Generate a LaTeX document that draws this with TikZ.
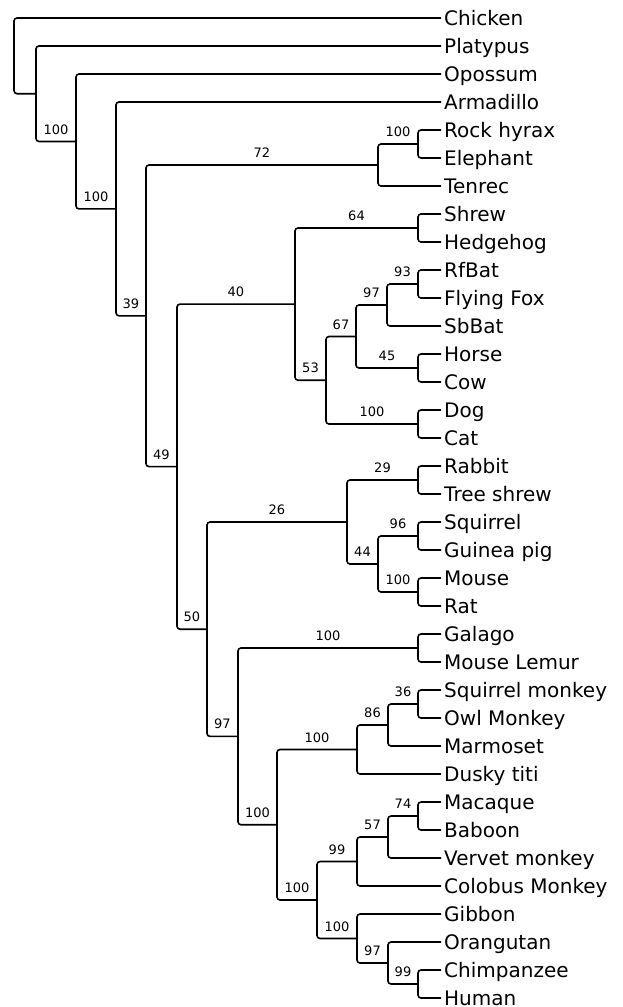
\documentclass[tikz,border=0pt]{standalone}
\usepackage{fontspec}
\setmainfont{DejaVu Sans}
\begin{document}
\begin{tikzpicture}[x=1pt,y=-1pt,
  branch/.style={line width=1.6pt, rounded corners=3pt},
  taxon/.style={font=\fontsize{20}{24}\selectfont, anchor=base west, inner sep=0pt},
  sup/.style={font=\fontsize{13}{15}\selectfont, anchor=base, inner sep=0pt, yshift=7.5pt}]
\fill[white] (0,0) rectangle (622,1007);
\useasboundingbox (0,0) rectangle (622,1007);
% leaves
\foreach \n/\t [count=\i from 0] in {chicken/Chicken, platypus/Platypus, opossum/Opossum, armadillo/Armadillo, rockhyrax/Rock hyrax, elephant/Elephant, tenrec/Tenrec, shrew/Shrew, hedgehog/Hedgehog, rfbat/RfBat, flyingfox/Flying Fox, sbbat/SbBat, horse/Horse, cow/Cow, dog/Dog, cat/Cat, rabbit/Rabbit, treeshrew/Tree shrew, squirrel/Squirrel, guineapig/Guinea pig, mouse/Mouse, rat/Rat, galago/Galago, mouselemur/Mouse Lemur, sqmonkey/Squirrel monkey, owlmonkey/Owl Monkey, marmoset/Marmoset, duskytiti/Dusky titi, macaque/Macaque, baboon/Baboon, vervet/Vervet monkey, colobus/Colobus Monkey, gibbon/Gibbon, orangutan/Orangutan, chimp/Chimpanzee, human/Human}{
  \coordinate (\n) at (441,{18+28*\i});
  \node[taxon] (t\n) at (444,{25+28*\i}) {\t};
}
% internal nodes
\coordinate (nE1) at (418,144);
\coordinate (nE) at (378,165);
\coordinate (nH1) at (418,228);
\coordinate (nH5) at (418,284);
\coordinate (nH4) at (387,305);
\coordinate (nH6) at (418,368);
\coordinate (nH3) at (356,336.5);
\coordinate (nH7) at (418,424);
\coordinate (nH2) at (326,380.25);
\coordinate (nH) at (295,304.1);
\coordinate (nK1) at (418,480);
\coordinate (nK3) at (418,536);
\coordinate (nK4) at (418,592);
\coordinate (nK2) at (378,564);
\coordinate (nK) at (347,522);
\coordinate (nS) at (418,648);
\coordinate (nN2) at (418,704);
\coordinate (nN1) at (388,725);
\coordinate (nN) at (357,749.5);
\coordinate (nP2) at (418,816);
\coordinate (nP1) at (388,837);
\coordinate (nP) at (357,861.5);
\coordinate (nQ2) at (418,984);
\coordinate (nQ1) at (388,963);
\coordinate (nQ) at (357,938.5);
\coordinate (nO) at (317,900);
\coordinate (nM) at (277,824.75);
\coordinate (nL) at (238,736.4);
\coordinate (nJ) at (207,629.2);
\coordinate (nG) at (177,466.6);
\coordinate (nD) at (146,315.8);
\coordinate (nC) at (116,208.9);
\coordinate (nB) at (76,141.5);
\coordinate (nA) at (36,93.7);
\coordinate (nR) at (14,55.9);
% branches
\draw[branch] (chicken) -| (nR) |- (nA);
\draw[branch] (platypus) -| (nA) |- node[sup,pos=.75] (sB) {100} (nB);
\draw[branch] (opossum) -| (nB) |- node[sup,pos=.75] (sC) {100} (nC);
\draw[branch] (armadillo) -| (nC) |- node[sup,pos=.75] (sD) {39} (nD);
\draw[branch] (nE) -| node[sup,pos=.25] (sE) {72} (nD) |- node[sup,pos=.75] (sG) {49} (nG);
\draw[branch] (nE1) -| node[sup,pos=.25] (sE1) {100} (nE) |- (tenrec);
\draw[branch] (rockhyrax) -| (nE1) |- (elephant);
\draw[branch] (nH) -| node[sup,pos=.25] (sH) {40} (nG) |- node[sup,pos=.75] (sJ) {50} (nJ);
\draw[branch] (nH1) -| node[sup,pos=.25] (sH1) {64} (nH) |- node[sup,pos=.75] (sH2) {53} (nH2);
\draw[branch] (shrew) -| (nH1) |- (hedgehog);
\draw[branch] (nH3) -| node[sup,pos=.25] (sH3) {67} (nH2) |- node[sup,pos=.75] (sH7) {100} (nH7);
\draw[branch] (nH4) -| node[sup,pos=.25] (sH4) {97} (nH3) |- node[sup,pos=.75] (sH6) {45} (nH6);
\draw[branch] (nH5) -| node[sup,pos=.25] (sH5) {93} (nH4) |- (sbbat);
\draw[branch] (rfbat) -| (nH5) |- (flyingfox);
\draw[branch] (horse) -| (nH6) |- (cow);
\draw[branch] (dog) -| (nH7) |- (cat);
\draw[branch] (nK) -| node[sup,pos=.25] (sK) {26} (nJ) |- node[sup,pos=.75] (sL) {97} (nL);
\draw[branch] (nK1) -| node[sup,pos=.25] (sK1) {29} (nK) |- node[sup,pos=.75] (sK2) {44} (nK2);
\draw[branch] (rabbit) -| (nK1) |- (treeshrew);
\draw[branch] (nK3) -| node[sup,pos=.25] (sK3) {96} (nK2) |- node[sup,pos=.75] (sK4) {100} (nK4);
\draw[branch] (squirrel) -| (nK3) |- (guineapig);
\draw[branch] (mouse) -| (nK4) |- (rat);
\draw[branch] (nS) -| node[sup,pos=.25] (sS) {100} (nL) |- node[sup,pos=.75] (sM) {100} (nM);
\draw[branch] (galago) -| (nS) |- (mouselemur);
\draw[branch] (nN) -| node[sup,pos=.25] (sN) {100} (nM) |- node[sup,pos=.75] (sO) {100} (nO);
\draw[branch] (nN1) -| node[sup,pos=.25] (sN1) {86} (nN) |- (duskytiti);
\draw[branch] (nN2) -| node[sup,pos=.25] (sN2) {36} (nN1) |- (marmoset);
\draw[branch] (sqmonkey) -| (nN2) |- (owlmonkey);
\draw[branch] (nP) -| node[sup,pos=.25] (sP) {99} (nO) |- node[sup,pos=.75] (sQ) {100} (nQ);
\draw[branch] (nP1) -| node[sup,pos=.25] (sP1) {57} (nP) |- (colobus);
\draw[branch] (nP2) -| node[sup,pos=.25] (sP2) {74} (nP1) |- (vervet);
\draw[branch] (macaque) -| (nP2) |- (baboon);
\draw[branch] (gibbon) -| (nQ) |- node[sup,pos=.75] (sQ1) {97} (nQ1);
\draw[branch] (orangutan) -| (nQ1) |- node[sup,pos=.75] (sQ2) {99} (nQ2);
\draw[branch] (chimp) -| (nQ2) |- (human);
\end{tikzpicture}
\end{document}
